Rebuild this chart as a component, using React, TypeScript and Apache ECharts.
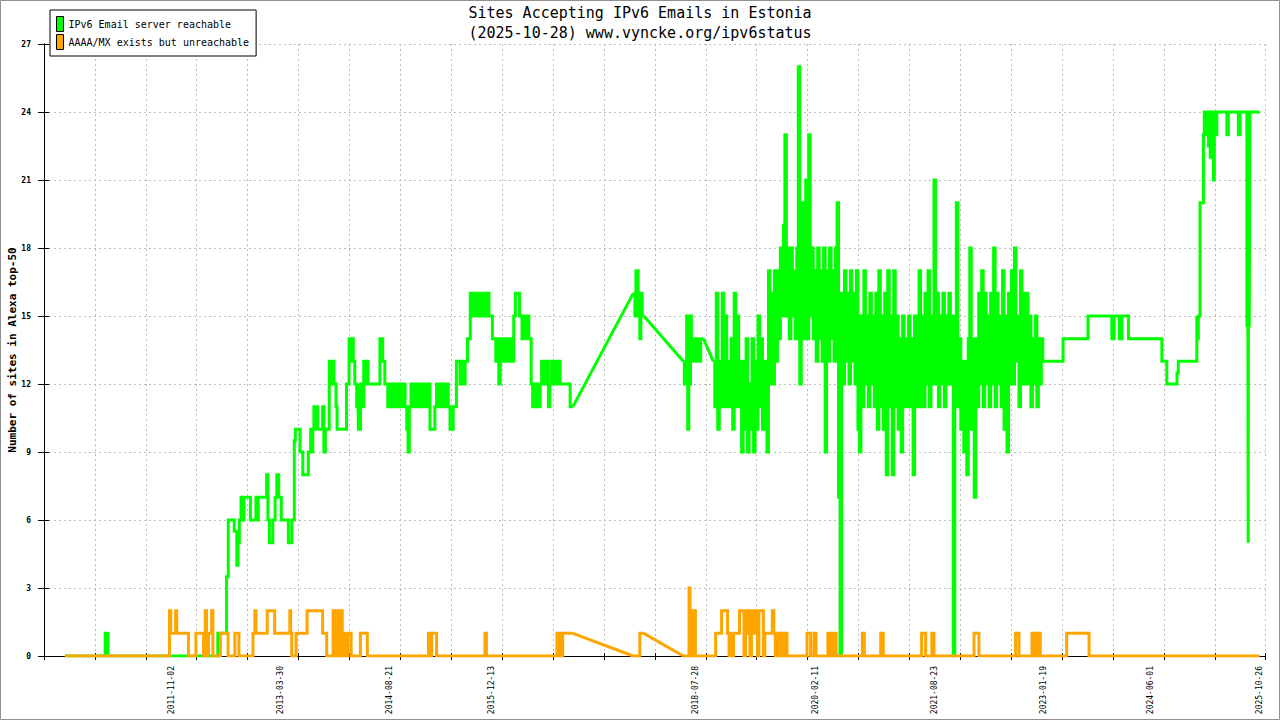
import React, { useEffect, useRef } from "react";
import * as echarts from "echarts";

// ---------- texts ----------
const TITLE_LINES = ["Sites Accepting IPv6 Emails in Estonia", "(2025-10-28) www.vyncke.org/ipv6status"];
const Y_NAME = "Number of sites in Alexa top-50";
const GREEN_NAME = "IPv6 Email server reachable";
const ORANGE_NAME = "AAAA/MX exists but unreachable";
const GREEN = "#00ff00";
const ORANGE = "#ffa500";

// ---------- axes ----------
const X_START = "2010-03-14";
const X_SPAN_DAYS = 5732;
const GRID_STEP_DAYS = 239;
const Y_MIN = 0;
const Y_MAX = 27;
const Y_STEP = 3;
const xLabelDates = ["2011-11-02", "2013-03-30", "2014-08-21", "2015-12-13", "2018-07-28", "2020-02-11", "2021-08-23", "2023-01-19", "2024-06-01", "2025-10-26"];

// ---------- green series: IPv6 Email server reachable ----------
const greenSeg1: [string, number][] = [
  ["2010-06-20", 0], ["2010-12-26", 1], ["2011-01-08", 0], ["2012-06-07", 1], ["2012-07-18", 3.5], ["2012-07-26", 6],
  ["2012-08-23", 5.5], ["2012-09-04", 4], ["2012-09-10", 5], ["2012-09-16", 6], ["2012-09-24", 7], ["2012-10-01", 6],
  ["2012-10-08", 7], ["2012-11-07", 6], ["2012-12-03", 7], ["2012-12-09", 6], ["2012-12-14", 7], ["2013-01-22", 8],
  ["2013-01-28", 6], ["2013-02-04", 5], ["2013-02-20", 6], ["2013-03-03", 7], ["2013-03-11", 8], ["2013-03-20", 7],
  ["2013-04-01", 6], ["2013-05-04", 5], ["2013-05-20", 6], ["2013-06-01", 9.5], ["2013-06-06", 10], ["2013-06-28", 9],
  ["2013-07-11", 8], ["2013-08-06", 9], ["2013-08-17", 10], ["2013-08-22", 9], ["2013-08-27", 10], ["2013-09-01", 11],
  ["2013-09-07", 10], ["2013-09-12", 11], ["2013-09-19", 10], ["2013-10-12", 11], ["2013-10-18", 9], ["2013-10-25", 10],
  ["2013-11-12", 13], ["2013-11-18", 12], ["2013-11-23", 13], ["2013-12-04", 12], ["2013-12-14", 11], ["2013-12-19", 10],
  ["2014-02-01", 12], ["2014-02-13", 14], ["2014-02-20", 13], ["2014-02-26", 14], ["2014-03-05", 13], ["2014-03-12", 12],
  ["2014-03-21", 11], ["2014-03-26", 12], ["2014-03-29", 10], ["2014-04-08", 12], ["2014-04-17", 11], ["2014-04-23", 13],
  ["2014-05-01", 12], ["2014-05-07", 13], ["2014-05-13", 12], ["2014-07-08", 14], ["2014-07-21", 13], ["2014-07-31", 12],
  ["2014-08-14", 11], ["2014-08-22", 12], ["2014-08-30", 11], ["2014-09-08", 12], ["2014-09-15", 11], ["2014-09-24", 12],
  ["2014-10-02", 11], ["2014-10-10", 12], ["2014-10-18", 11], ["2014-10-26", 12], ["2014-11-03", 11], ["2014-11-11", 10],
  ["2014-11-17", 9], ["2014-11-23", 11], ["2014-12-01", 12], ["2014-12-09", 11], ["2014-12-17", 12], ["2014-12-26", 11],
  ["2015-01-03", 12], ["2015-01-12", 11], ["2015-01-20", 12], ["2015-01-29", 11], ["2015-02-06", 12], ["2015-02-14", 11],
  ["2015-02-22", 12], ["2015-02-28", 10], ["2015-03-23", 11], ["2015-03-31", 12], ["2015-04-08", 11], ["2015-04-16", 12],
  ["2015-04-24", 11], ["2015-05-02", 12], ["2015-05-10", 11], ["2015-05-18", 12], ["2015-05-25", 11], ["2015-06-02", 10],
  ["2015-06-17", 11], ["2015-07-02", 13], ["2015-07-19", 12], ["2015-07-27", 13], ["2015-08-04", 12], ["2015-08-12", 13],
  ["2015-08-23", 14], ["2015-09-05", 16], ["2015-09-12", 15], ["2015-09-19", 16], ["2015-09-26", 15], ["2015-10-03", 16],
  ["2015-10-10", 15], ["2015-10-17", 16], ["2015-10-24", 15], ["2015-10-31", 16], ["2015-11-07", 15], ["2015-11-14", 16],
  ["2015-11-21", 15], ["2015-11-26", 16], ["2015-12-02", 15], ["2015-12-18", 14], ["2016-01-03", 13], ["2016-01-10", 14],
  ["2016-01-17", 12], ["2016-01-24", 13], ["2016-01-31", 14], ["2016-02-07", 13], ["2016-02-14", 14], ["2016-02-21", 13],
  ["2016-02-28", 14], ["2016-03-06", 13], ["2016-03-13", 14], ["2016-03-20", 13], ["2016-03-27", 15], ["2016-04-04", 16],
  ["2016-04-23", 15], ["2016-05-05", 14], ["2016-05-12", 15], ["2016-05-20", 14], ["2016-05-28", 15], ["2016-06-06", 14],
  ["2016-06-17", 12], ["2016-06-24", 11], ["2016-07-01", 12], ["2016-07-08", 11], ["2016-07-15", 12], ["2016-07-22", 11],
  ["2016-07-29", 12], ["2016-08-05", 13], ["2016-08-12", 12], ["2016-08-19", 13], ["2016-08-26", 12], ["2016-09-02", 13],
  ["2016-09-06", 11], ["2016-09-13", 12], ["2016-09-21", 13], ["2016-09-29", 12], ["2016-10-07", 13], ["2016-10-15", 12],
  ["2016-10-23", 13], ["2016-10-31", 12], ["2016-12-17", 11], ["2016-12-30", 11],
];
const greenSeg2: [string, number][] = [
  ["2017-10-09", 16], ["2017-10-17", 15], ["2017-10-22", 17], ["2017-11-01", 16], ["2017-11-05", 15], ["2017-11-09", 14],
  ["2017-11-14", 16], ["2017-11-20", 15], ["2017-11-28", 15],
];
const greenSeg3: [string, number][] = [
  ["2018-06-01", 13], ["2018-06-06", 12], ["2018-06-11", 13], ["2018-06-17", 15], ["2018-06-22", 10], ["2018-06-27", 12],
  ["2018-07-05", 15], ["2018-07-09", 13], ["2018-07-14", 14], ["2018-07-20", 13], ["2018-07-26", 14], ["2018-08-01", 13],
  ["2018-08-08", 14], ["2018-08-15", 13], ["2018-08-22", 14], ["2018-09-04", 14],
];
const greenWeeklyStart = "2018-10-20";
const greenWeekly: number[] = [
  13, 11, 16, 10, 13, 11, 16, 11, 15, 11,
  13, 11, 14, 10, 16, 11, 15, 11, 13, 9,
  13, 10, 14, 9, 12, 10, 14, 9, 13, 10,
  15, 11, 14, 10, 13, 11, 9, 17, 12, 16,
  12, 17, 13, 17, 14, 18, 15, 19, 23, 15,
  18, 14, 18, 15, 17, 14, 18, 26, 12, 20,
  14, 19, 21, 14, 23, 15, 18, 14, 17, 13,
  18, 14, 17, 13, 18, 9, 17, 13, 18, 14,
  17, 13, 18, 20, 7, 0, 16, 12, 17, 13,
  16, 12, 17, 13, 16, 12, 17, 10, 9, 15,
  11, 17, 12, 15, 11, 16, 12, 15, 11, 16,
  10, 17, 11, 15, 10, 16, 8, 17, 11, 15,
  8, 17, 11, 15, 10, 14, 9, 15, 11, 14,
  11, 15, 11, 14, 8, 15, 11, 14, 17, 11,
  15, 11, 16, 12, 17, 11, 15, 12, 21, 12,
  16, 11, 15, 12, 16, 11, 15, 12, 16, 12,
  15, 0, 14, 20, 11, 14, 10, 13, 9, 13,
  8, 14, 18, 10, 14, 7, 14, 11, 16, 12,
  17, 11, 16, 12, 15, 11, 16, 12, 18, 11,
  16, 12, 15, 11, 17, 10, 15, 9, 16, 12,
  17, 12, 18, 13, 15, 11, 17, 12, 16, 12,
  16, 12, 15, 11, 14, 12, 15, 11, 14, 12,
  14, 13,
];
const greenSeg4: [string, number][] = [
  ["2023-02-03", 13], ["2023-04-19", 14], ["2023-08-14", 15], ["2023-12-04", 14], ["2023-12-15", 15], ["2024-01-08", 14],
  ["2024-01-20", 15], ["2024-02-20", 14], ["2024-07-26", 13], ["2024-08-18", 12], ["2024-10-05", 12.5], ["2024-10-11", 13],
  ["2025-01-06", 15], ["2025-01-09", 14], ["2025-01-13", 15], ["2025-01-21", 20], ["2025-02-06", 23], ["2025-02-10", 24],
  ["2025-02-14", 23], ["2025-02-18", 24], ["2025-02-22", 23], ["2025-02-26", 24], ["2025-03-02", 22.5], ["2025-03-06", 24],
  ["2025-03-10", 22], ["2025-03-14", 24], ["2025-03-18", 23], ["2025-03-25", 21], ["2025-03-29", 24], ["2025-04-02", 23],
  ["2025-04-10", 24], ["2025-05-27", 23], ["2025-06-03", 24], ["2025-07-20", 23], ["2025-07-28", 24], ["2025-08-29", 14.5],
  ["2025-09-01", 24], ["2025-09-04", 5], ["2025-09-06", 24], ["2025-09-09", 14.5], ["2025-09-12", 24], ["2025-10-28", 24],
];

// ---------- orange series: AAAA/MX exists but unreachable ----------
const orangeSeg1: [string, number][] = [
  ["2010-06-20", 0], ["2011-10-24", 2], ["2011-10-30", 1], ["2011-11-22", 2], ["2011-11-27", 1], ["2012-01-21", 0],
  ["2012-02-25", 1], ["2012-04-01", 0], ["2012-04-09", 2], ["2012-04-15", 0], ["2012-04-24", 1], ["2012-05-09", 2],
  ["2012-05-15", 0], ["2012-06-19", 1], ["2012-07-25", 0], ["2012-08-26", 1], ["2012-09-14", 0], ["2012-11-19", 1],
  ["2012-11-28", 2], ["2012-12-03", 1], ["2013-01-25", 2], ["2013-03-01", 1], ["2013-05-11", 2], ["2013-05-15", 1],
  ["2013-05-20", 0], ["2013-06-09", 1], ["2013-07-31", 2], ["2013-10-12", 1], ["2013-10-31", 0], ["2013-11-30", 2],
  ["2013-12-05", 0], ["2013-12-18", 2], ["2014-01-01", 0], ["2014-01-05", 2], ["2014-01-12", 0], ["2014-01-25", 1],
  ["2014-02-01", 0], ["2014-02-07", 1], ["2014-02-23", 0], ["2014-04-07", 1], ["2014-05-10", 0], ["2015-02-21", 1],
  ["2015-03-02", 0], ["2015-03-08", 1], ["2015-03-31", 0], ["2015-11-13", 1], ["2015-11-20", 0], ["2016-10-16", 1],
  ["2016-10-24", 0], ["2016-10-30", 1], ["2016-11-06", 0], ["2016-11-12", 1], ["2016-12-30", 1],
];
const orangeSeg2: [string, number][] = [["2017-10-09", 0], ["2017-11-09", 1], ["2017-11-28", 1]];
const orangeSeg3a: [string, number][] = [
  ["2018-06-01", 0], ["2018-06-28", 3], ["2018-07-03", 1], ["2018-07-07", 2], ["2018-07-11", 0], ["2018-07-15", 2],
  ["2018-07-19", 0], ["2018-07-23", 2], ["2018-07-28", 0],
];
const orangeWeeklyStart = "2018-10-31";
const orangeWeekly: number[] = [
  1, 1, 1, 1, 2, 2, 2, 2, 1, 0, 1, 0, 1, 1, 1, 1, 2, 2, 2, 0, 1, 2, 2, 0, 2, 2, 1, 2, 0, 2, 2, 2, 0,
  1, 1, 1, 1, 1, 2, 1, 0, 1, 0, 1, 0, 1, 0, 1,
];
const orangeSeg3b: [string, number][] = [
  ["2019-10-01", 0], ["2020-01-03", 1], ["2020-01-20", 0], ["2020-02-05", 1], ["2020-02-14", 0], ["2020-04-10", 1],
  ["2020-04-18", 0], ["2020-04-24", 1], ["2020-05-05", 0], ["2020-05-10", 1], ["2020-05-19", 0], ["2020-09-19", 1],
  ["2020-09-28", 0], ["2020-12-14", 1], ["2020-12-26", 0], ["2021-06-24", 1], ["2021-07-13", 0], ["2021-08-11", 1],
  ["2021-08-21", 0], ["2022-02-25", 1], ["2022-03-20", 0], ["2022-09-08", 1], ["2022-09-24", 0], ["2022-11-24", 1],
  ["2022-12-03", 0], ["2022-12-10", 1], ["2022-12-16", 0], ["2022-12-23", 1], ["2023-01-02", 0], ["2023-05-06", 1],
  ["2023-08-19", 0], ["2025-10-28", 0],
];

// ---------- helpers ----------
const DAY = 86400000;
const X0 = Date.parse(X_START);
const toX = (d: string) => Math.round((Date.parse(d) - X0) / DAY);
const pts = (seg: [string, number][]) => seg.map(([d, v]) => [toX(d), v]);
const weekly = (start: string, vals: number[]) => vals.map((v, i) => [toX(start) + i * 7, v]);
const fmtDay = (v: number) => new Date(X0 + Math.round(v) * DAY).toISOString().slice(0, 10);
const FONT = "'DejaVu Sans Mono', monospace";

function stepSeries(name: string, color: string, data: number[][], z: number) {
  return {
    type: "line", name, data, step: "end", showSymbol: false, symbol: "none", silent: true, z,
    lineStyle: { color, width: 3, cap: "butt", join: "miter" }, itemStyle: { color },
  };
}
function gapSeries(name: string, color: string, a: number[], b: number[], z: number) {
  return {
    type: "line", name, data: [a, b], showSymbol: false, symbol: "none", silent: true, z,
    lineStyle: { color, width: 3 }, itemStyle: { color },
  };
}

function buildOption() {
  const g1 = pts(greenSeg1), g2 = pts(greenSeg2), g3 = pts(greenSeg3);
  const g4 = [...weekly(greenWeeklyStart, greenWeekly), ...pts(greenSeg4)];
  const o1 = pts(orangeSeg1), o2 = pts(orangeSeg2);
  const o3 = [...pts(orangeSeg3a), ...weekly(orangeWeeklyStart, orangeWeekly), ...pts(orangeSeg3b)];
  const last = (a: number[][]) => a[a.length - 1];
  const series = [
    stepSeries(GREEN_NAME, GREEN, g1, 2),
    stepSeries(GREEN_NAME, GREEN, g2, 2),
    stepSeries(GREEN_NAME, GREEN, g3, 2),
    stepSeries(GREEN_NAME, GREEN, g4, 2),
    gapSeries(GREEN_NAME, GREEN, last(g1), g2[0], 2),
    gapSeries(GREEN_NAME, GREEN, last(g2), g3[0], 2),
    gapSeries(GREEN_NAME, GREEN, last(g3), g4[0], 2),
    stepSeries(ORANGE_NAME, ORANGE, o1, 3),
    stepSeries(ORANGE_NAME, ORANGE, o2, 3),
    stepSeries(ORANGE_NAME, ORANGE, o3, 3),
    gapSeries(ORANGE_NAME, ORANGE, last(o1), o2[0], 3),
    gapSeries(ORANGE_NAME, ORANGE, last(o2), o3[0], 3),
  ];
  const dashed = { color: "#bdbdbd", width: 1, type: [2, 3] };
  return {
    animation: false,
    backgroundColor: "#ffffff",
    title: {
      text: TITLE_LINES.join("\n"), left: "center", top: 3, padding: 0,
      textStyle: { fontFamily: FONT, fontSize: 15, fontWeight: "normal", color: "#000", lineHeight: 20 },
    },
    legend: {
      left: 50, top: 10, orient: "vertical", padding: [6, 7, 6, 6], itemGap: 2, itemWidth: 7, itemHeight: 15,
      backgroundColor: "#fff", borderColor: "#000", borderWidth: 1, borderRadius: 0, selectedMode: false,
      textStyle: { fontFamily: FONT, fontSize: 10, color: "#000" },
      data: [
        { name: GREEN_NAME, icon: "rect", itemStyle: { color: GREEN, borderColor: "#000", borderWidth: 1 } },
        { name: ORANGE_NAME, icon: "rect", itemStyle: { color: ORANGE, borderColor: "#000", borderWidth: 1 } },
      ],
    },
    grid: { left: 44, right: 15, top: 44, bottom: 64, containLabel: false, outerBoundsMode: "none" },
    xAxis: [
      {
        type: "value", min: 0, max: X_SPAN_DAYS, interval: GRID_STEP_DAYS, position: "bottom",
        axisLine: { show: true, onZero: false, lineStyle: { color: "#000", width: 1 } },
        axisTick: { show: true, length: 4, lineStyle: { color: "#000" } },
        axisLabel: { show: false }, splitLine: { show: true, lineStyle: dashed },
      },
      {
        type: "value", min: 0, max: X_SPAN_DAYS, interval: GRID_STEP_DAYS, position: "bottom",
        axisLine: { show: false }, axisTick: { show: true, inside: true, length: 3, lineStyle: { color: "#000" } },
        axisLabel: { show: false }, splitLine: { show: false },
      },
      {
        type: "value", min: 0, max: X_SPAN_DAYS, position: "bottom",
        axisLine: { show: false }, axisTick: { show: false }, splitLine: { show: false },
        axisLabel: {
          show: true, customValues: xLabelDates.map(toX), formatter: (v: number) => fmtDay(v),
          rotate: 90, margin: 10, fontFamily: FONT, fontSize: 8, color: "#000",
        },
      },
    ],
    yAxis: [
      {
        type: "value", min: Y_MIN, max: Y_MAX, interval: Y_STEP, position: "left",
        name: Y_NAME, nameLocation: "middle", nameGap: 26, nameMoveOverlap: false,
        nameTextStyle: { fontFamily: FONT, fontSize: 11, fontWeight: "bold", color: "#000" },
        axisLine: { show: true, lineStyle: { color: "#000", width: 1 } },
        axisTick: { show: true, length: 6, lineStyle: { color: "#000" } },
        axisLabel: { margin: 13, fontFamily: FONT, fontSize: 8, fontWeight: "bold", color: "#000" },
        splitLine: { show: true, lineStyle: dashed },
      },
      {
        type: "value", min: Y_MIN, max: Y_MAX, interval: Y_STEP, position: "left",
        axisLine: { show: false }, axisTick: { show: true, inside: true, length: 5, lineStyle: { color: "#000" } },
        axisLabel: { show: false }, splitLine: { show: false },
      },
      {
        type: "value", min: Y_MIN, max: Y_MAX, interval: Y_STEP, position: "right",
        axisLine: { show: true, lineStyle: { color: "#000", width: 1 } },
        axisTick: { show: false }, axisLabel: { show: false }, splitLine: { show: false },
      },
    ],
    graphic: [
      {
        type: "rect", silent: true, z: 100,
        shape: { x: 0.5, y: 0.5, width: 1279, height: 719 },
        style: { fill: "none", stroke: "#8f8f8f", lineWidth: 1 },
      },
    ],
    series,
  };
}

export default function App() {
  const ref = useRef<HTMLDivElement>(null);
  useEffect(() => {
    if (!ref.current) return;
    const chart = echarts.init(ref.current, null, { renderer: "svg" });
    chart.setOption(buildOption() as any);
    return () => chart.dispose();
  }, []);
  return (
    <div
      ref={ref}
      style={{ position: "fixed", left: 0, top: 0, width: 1280, height: 720, background: "#fff" }}
    />
  );
}
